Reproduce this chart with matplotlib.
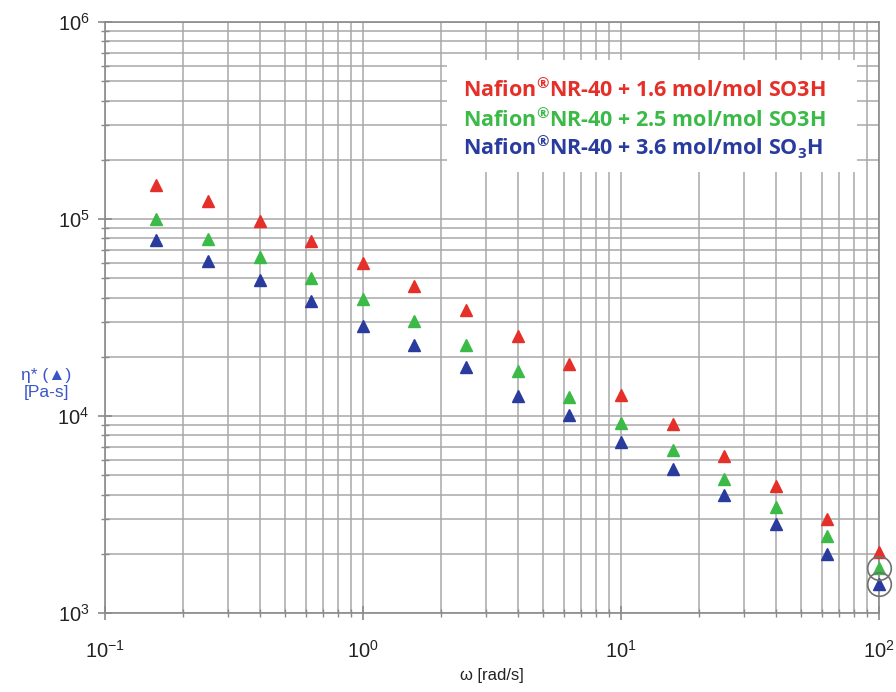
import matplotlib
matplotlib.use('Agg')
import matplotlib.pyplot as plt
from matplotlib.patches import Rectangle
from matplotlib.ticker import LogLocator, NullFormatter

plt.rcParams['font.family'] = ['Liberation Sans', 'DejaVu Sans']
plt.rcParams['mathtext.default'] = 'regular'
plt.rcParams['axes.unicode_minus'] = False

# data
omega = [0.158, 0.251, 0.398, 0.631, 1.0, 1.585, 2.51, 3.98, 6.31, 10.0, 15.85, 25.1, 39.8, 63.1, 100.0]
eta_16 = [1.49e5, 1.23e5, 9.8e4, 7.7e4, 6.0e4, 4.6e4, 3.45e4, 2.55e4, 1.84e4, 1.28e4, 9.1e3, 6.3e3, 4.4e3, 3.0e3, 2.05e3]
eta_25 = [1.0e5, 7.9e4, 6.4e4, 5.0e4, 3.95e4, 3.05e4, 2.3e4, 1.7e4, 1.25e4, 9.2e3, 6.7e3, 4.8e3, 3.45e3, 2.45e3, 1.7e3]
eta_36 = [7.8e4, 6.1e4, 4.9e4, 3.85e4, 2.87e4, 2.3e4, 1.78e4, 1.27e4, 1.01e4, 7.4e3, 5.4e3, 4.0e3, 2.85e3, 2.0e3, 1.4e3]
labels = ['Nafion$^{®}$NR-40 + 1.6 mol/mol SO3H',
          'Nafion$^{®}$NR-40 + 2.5 mol/mol SO3H',
          'Nafion$^{®}$NR-40 + 3.6 mol/mol SO$_{3}$H']
colors = ['#e5302a', '#3cba48', '#2a3b9e']

fig = plt.figure(figsize=(8.96, 6.92), dpi=100)
ax = fig.add_axes([0.117, 0.114, 0.864, 0.854])
ax.set_xscale('log')
ax.set_yscale('log')
ax.set_xlim(0.1, 100)
ax.set_ylim(1e3, 1e6)

ax.xaxis.set_minor_locator(LogLocator(base=10, subs=range(2, 10)))
ax.yaxis.set_minor_locator(LogLocator(base=10, subs=range(2, 10)))
ax.xaxis.set_minor_formatter(NullFormatter())
ax.yaxis.set_minor_formatter(NullFormatter())
ax.grid(True, which='both', color='#a8a8a8', linewidth=1.1)
ax.set_axisbelow(True)
for s in ax.spines.values():
    s.set_color('#8a8a8a')
    s.set_linewidth(1.2)
ax.tick_params(which='both', direction='inout', color='#8a8a8a', labelsize=14.5, labelcolor='#222222')
ax.tick_params(which='major', length=10, width=1.2)
ax.tick_params(which='minor', length=6, width=1.0)
ax.tick_params(axis='x', pad=14)
ax.tick_params(axis='y', pad=6)

series = [eta_16, eta_25, eta_36]
for ys, c, lab in zip(series, colors, labels):
    ax.plot(omega, ys, linestyle='none', marker='^', markersize=9,
            color=c, label=lab, clip_on=False, zorder=3)

# gray circles around the last green and blue points
ax.plot([omega[-1], omega[-1]], [eta_25[-1], eta_36[-1]], linestyle='none', marker='o',
        markersize=17, markerfacecolor='none', markeredgecolor='#707070',
        markeredgewidth=1.2, clip_on=False, zorder=4)

# legend: white box with coloured text
ax.add_patch(Rectangle((0.442, 0.746), 0.530, 0.190, transform=ax.transAxes,
                       facecolor='white', edgecolor='none', zorder=2))
for lab, c, yy in zip(labels, colors, [0.874, 0.823, 0.774]):
    ax.text(0.4625, yy, lab, transform=ax.transAxes, color=c, ha='left', va='baseline',
            family='Open Sans', weight='bold', fontsize=15.5, zorder=5)

ax.set_xlabel('ω [rad/s]', fontsize=12, color='#222222', labelpad=5)
fig.text(0.052, 0.445, 'η* (▲)\n[Pa-s]', color='#3a55c8', fontsize=12.5,
         ha='center', va='center', linespacing=1.15)

fig.savefig('out.png', dpi=100)
